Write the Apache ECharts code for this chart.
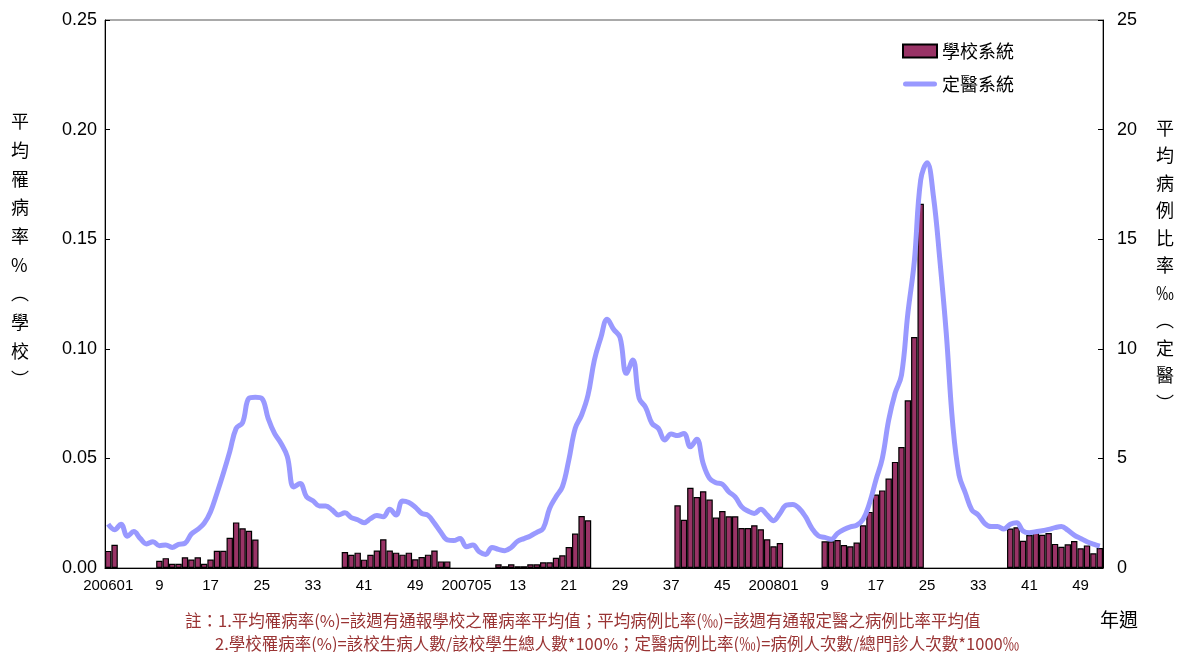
<!DOCTYPE html>
<html>
<head>
<meta charset="utf-8">
<script src="https://cdn.jsdelivr.net/npm/echarts@6/dist/echarts.min.js"></script>
<style>
html,body{margin:0;padding:0;background:#fff;}
#chart{width:1179px;height:652px;}
</style>
</head>
<body>
<div id="chart"></div>
<script>
// ---- data ----
const years = ['2006', '2007', '2008'];
const weeksPerYear = 52;
const xTickLabels = ['200601','9','17','25','33','41','49','200705','13','21','29','37','45','200801','9','17','25','33','41','49'];

// 學校系統 平均罹病率 (%)
const school2006 = [0.0078,0.0106,null,null,null,null,null,null,0.0033,0.0045,0.0019,0.0019,0.0049,0.0039,0.0049,0.0019,
  0.0039,0.0079,0.0079,0.0138,0.0208,0.0181,0.0170,0.0130,null,null,null,null,null,null,null,null,
  null,null,null,null,null,0.0073,0.0060,0.0070,0.0038,0.0060,0.0080,0.0131,0.0080,0.0070,0.0061,0.0070,
  0.0040,0.0050,0.0061,0.0080];
const school2007 = [0.0030,0.0030,null,null,null,null,null,null,null,0.0017,0.0008,0.0017,0.0008,0.0008,0.0017,0.0017,
  0.0026,0.0026,0.0047,0.0058,0.0096,0.0157,0.0237,0.0218,null,null,null,null,null,null,null,null,
  null,null,null,null,null,0.0286,0.0220,0.0366,0.0324,0.0350,0.0312,0.0230,0.0260,0.0236,0.0236,0.0182,
  0.0182,0.0195,0.0177,0.0131];
const school2008 = [0.0099,0.0114,null,null,null,null,null,null,0.0122,0.0122,0.0128,0.0105,0.0099,0.0116,0.0195,0.0256,
  0.0335,0.0354,0.0408,0.0484,0.0552,0.0765,0.1054,0.1662,null,null,null,null,null,null,null,null,
  null,null,null,null,null,0.0180,0.0186,0.0124,0.0150,0.0168,0.0152,0.0160,0.0110,0.0097,0.0108,0.0123,
  0.0090,0.0103,0.0067,0.0091];

// 定醫系統 平均病例比率 (‰)
const clinic2006 = [2.0,1.75,2.0,1.45,1.66,1.35,1.1,1.2,1.02,1.05,0.94,1.08,1.13,1.55,1.76,2.04,
  2.57,3.41,4.32,5.31,6.37,6.63,7.74,7.79,7.74,6.83,6.14,5.69,5.08,3.7,3.85,3.25,
  3.07,2.83,2.83,2.65,2.42,2.52,2.3,2.2,2.07,2.25,2.4,2.34,2.68,2.42,3.06,2.99,
  2.78,2.49,2.4,2.04];
const clinic2007 = [1.63,1.28,1.25,1.35,0.97,1.05,0.74,0.62,0.94,0.85,0.79,0.94,1.22,1.34,1.46,1.63,
  1.81,2.72,3.25,3.71,4.93,6.37,6.98,7.89,9.49,10.5,11.35,10.89,10.52,8.88,9.49,7.74,
  7.33,6.6,6.37,5.84,6.11,6.04,6.14,5.53,5.87,4.77,4.09,3.89,3.82,3.48,3.25,2.8,
  2.6,2.49,2.68,2.42];
const clinic2008 = [2.16,2.49,2.87,2.9,2.72,2.34,1.81,1.47,1.4,1.31,1.58,1.76,1.88,1.95,2.22,2.95,
  4.01,5.0,6.75,7.97,8.8,11.62,13.97,17.7,18.49,16.94,14.05,10.71,6.6,4.24,3.41,2.65,
  2.42,2.04,1.89,1.89,1.78,2.0,2.07,1.69,1.61,1.66,1.7,1.76,1.84,1.89,1.73,1.5,
  1.35,1.2,1.09,1.0];

const leftAxisName = '平均罹病率%︵學校︶';
const rightAxisName = '平均病例比率‰︵定醫︶';
const note1 = '註：1.平均罹病率(%)=該週有通報學校之罹病率平均值；平均病例比率(‰)=該週有通報定醫之病例比率平均值';
const note2 = '2.學校罹病率(%)=該校生病人數/該校學生總人數*100%；定醫病例比率(‰)=病例人次數/總門診人次數*1000‰';

// ---- build ----
const categories = [];
years.forEach(y => { for (let w = 1; w <= weeksPerYear; w++) categories.push(y + String(w).padStart(2, '0')); });
const schoolData = school2006.concat(school2007, school2008);
const clinicData = clinic2006.concat(clinic2007, clinic2008);

const numFont = '"Liberation Sans", Arial, sans-serif';
const cjkFont = '"Noto Sans CJK TC", "Noto Sans CJK SC", sans-serif';

const chart = echarts.init(document.getElementById('chart'));
chart.setOption({
  animation: false,
  backgroundColor: '#fff',
  grid: { left: 105, right: 76, top: 20, bottom: 84, show: true, borderColor: '#555', borderWidth: 1 },
  legend: {
    left: 897, top: 37, orient: 'vertical', itemGap: 15, itemWidth: 34, itemHeight: 13,
    symbolKeepAspect: true,
    textStyle: { fontFamily: cjkFont, fontSize: 18, color: '#000' },
    data: [
      { name: '學校系統', icon: 'rect' },
      { name: '定醫系統', icon: 'path://M2.5,0 h29 a2.5,2.5 0 0 1 0,5 h-29 a2.5,2.5 0 0 1 0,-5 Z', itemStyle: { color: '#9999ff' } }
    ]
  },
  xAxis: {
    type: 'category', data: categories, boundaryGap: true,
    axisLine: { lineStyle: { color: '#000', width: 1 } },
    axisTick: { inside: true, interval: 7, length: 5, lineStyle: { color: '#000' } },
    axisLabel: {
      interval: 7, margin: 10, color: '#000', fontSize: 15, fontFamily: numFont,
      formatter: (v, i) => xTickLabels[Math.round(i / 8)] || ''
    },
    splitLine: { show: false }
  },
  yAxis: [{
    type: 'value', min: 0, max: 0.25, interval: 0.05, position: 'left',
    axisLine: { show: true, lineStyle: { color: '#000' } },
    axisTick: { show: true, inside: true, length: 5, lineStyle: { color: '#000' } },
    axisLabel: { color: '#000', fontSize: 18, fontFamily: numFont, margin: 8, formatter: v => v.toFixed(2) },
    splitLine: { show: false }
  }, {
    type: 'value', min: 0, max: 25, interval: 5, position: 'right',
    axisLine: { show: true, lineStyle: { color: '#000' } },
    axisTick: { show: true, inside: true, length: 5, lineStyle: { color: '#000' } },
    axisLabel: { color: '#000', fontSize: 18, fontFamily: numFont, margin: 14 },
    splitLine: { show: false }
  }],
  series: [{
    name: '學校系統', type: 'bar', yAxisIndex: 0, data: schoolData,
    barCategoryGap: '0%',
    itemStyle: { color: '#993366', borderColor: '#000', borderWidth: 1.2 }
  }, {
    name: '定醫系統', type: 'line', yAxisIndex: 1, data: clinicData,
    smooth: 0.4, symbol: 'none', showSymbol: false,
    lineStyle: { color: '#9999ff', width: 5 },
    itemStyle: { color: '#9999ff' }
  }],
  graphic: [
    { type: 'text', left: 11, top: 107, style: { text: leftAxisName.split('').join('\n'), font: '18px ' + cjkFont, lineHeight: 28.7, fill: '#000', align: 'center' } },
    { type: 'text', left: 1156, top: 114, style: { text: rightAxisName.split('').join('\n'), font: '18px ' + cjkFont, lineHeight: 27.5, fill: '#000', align: 'center' } },
    { type: 'text', left: 185, top: 612, style: { text: note1, font: '16.5px ' + cjkFont, fill: '#993333' } },
    { type: 'text', left: 215, top: 635, style: { text: note2, font: '16.5px ' + cjkFont, fill: '#993333' } },
    { type: 'text', left: 1100, top: 610, style: { text: '年週', font: '19px ' + cjkFont, fill: '#000' } }
  ]
});
</script>
</body>
</html>
